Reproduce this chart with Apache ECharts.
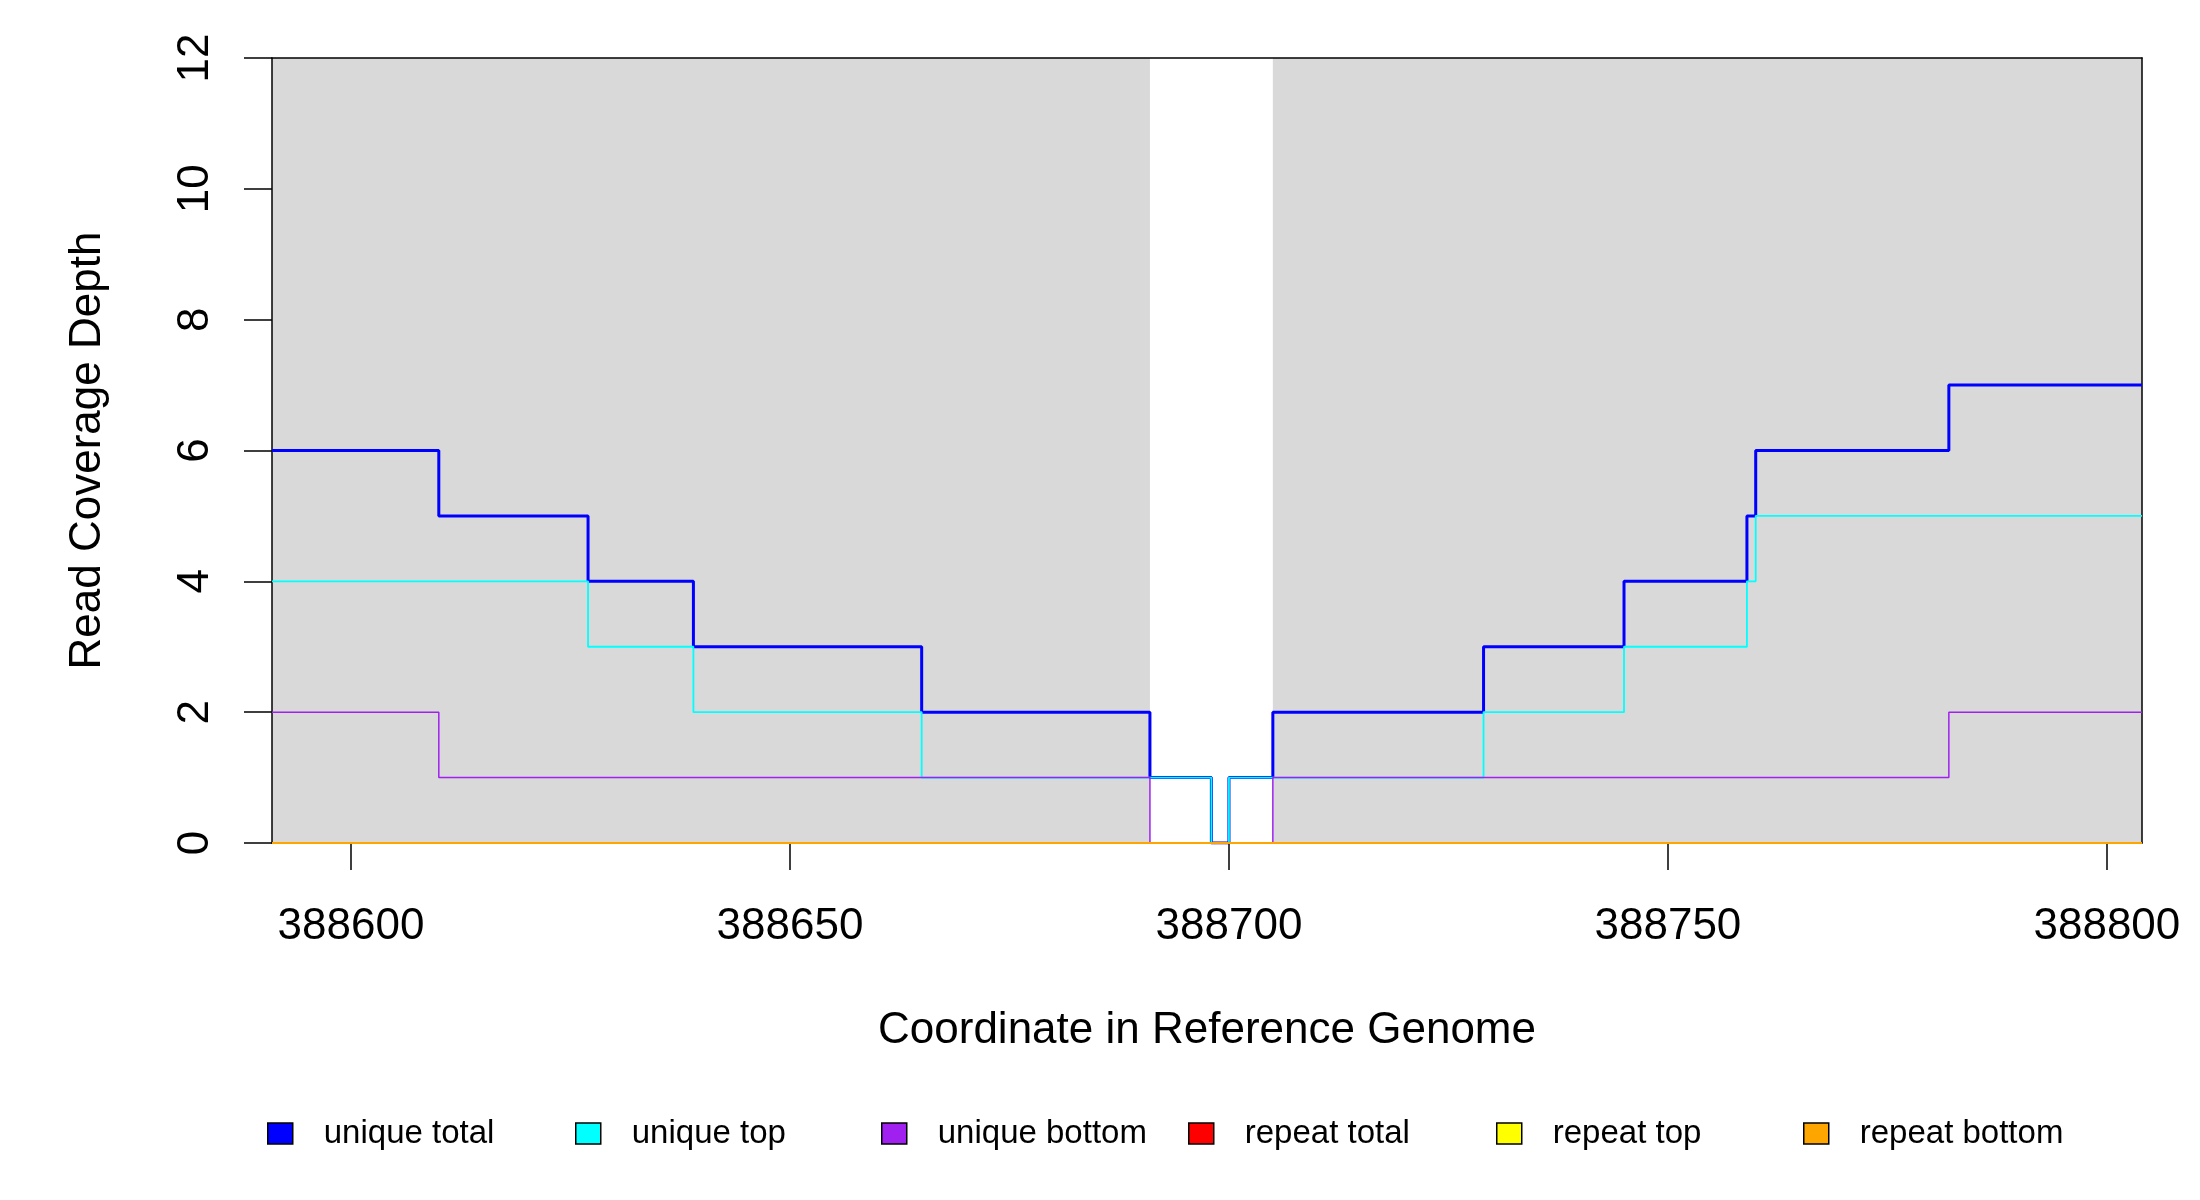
<!DOCTYPE html>
<html>
<head>
<meta charset="utf-8">
<title>Read Coverage Depth</title>
<script src="https://cdn.jsdelivr.net/npm/echarts@6/dist/echarts.min.js"></script>
<style>
  html, body { margin: 0; padding: 0; background: #fff; }
  #chart { width: 2200px; height: 1200px; }
</style>
</head>
<body>
<div id="chart"></div>
<script>
// x range of the plot and the tick positions
var xRange = [388591, 388804];
var xTicks = [388600, 388650, 388700, 388750, 388800];
var yTicks = [0, 2, 4, 6, 8, 10, 12];

// grey covered regions [from, to]
var coveredRegions = [[388591, 388691], [388705, 388804]];

// step lines: [position, depth] at each change point, last point closes the step
var uniqueTotal = [[388591, 6], [388610, 5], [388627, 4], [388639, 3], [388665, 2], [388691, 1],
    [388698, 0], [388700, 1], [388705, 2], [388729, 3], [388745, 4], [388759, 5], [388760, 6],
    [388782, 7], [388804, 7]];
var uniqueTop = [[388591, 4], [388627, 3], [388639, 2], [388665, 1], [388698, 0], [388700, 1],
    [388729, 2], [388745, 3], [388759, 4], [388760, 5], [388804, 5]];
var uniqueBottom = [[388591, 2], [388610, 1], [388691, 0], [388705, 1], [388782, 2], [388804, 2]];
var repeatTotal = [[388591, 0], [388804, 0]];
var repeatTop = [[388591, 0], [388804, 0]];
var repeatBottom = [[388591, 0], [388804, 0]];

var seriesNames = ['unique total', 'unique top', 'unique bottom', 'repeat total', 'repeat top', 'repeat bottom'];
var seriesData = [uniqueTotal, uniqueTop, uniqueBottom, repeatTotal, repeatTop, repeatBottom];
var seriesColors = ['#0000ff', '#00ffff', '#a020f0', '#ff0000', '#ffff00', '#ffa500'];
var lineWidths = [3, 1.8, 1.5, 2, 2, 2];
var legendLeft = [267, 575, 881, 1188, 1496, 1803];

var font = 'Liberation Sans, Arial, sans-serif';
var myChart = echarts.init(document.getElementById('chart'));

var series = [{
    // only carries the grey regions
    type: 'line',
    data: [],
    markArea: {
        silent: true,
        itemStyle: { color: '#d9d9d9', opacity: 1 },
        data: coveredRegions.map(function (r) {
            return [{ xAxis: r[0] }, { xAxis: r[1] }];
        })
    }
}];
for (var i = 0; i < seriesNames.length; i++) {
    series.push({
        name: seriesNames[i],
        type: 'line',
        step: 'end',
        data: seriesData[i],
        color: seriesColors[i],
        showSymbol: false,
        z: 11 + i,
        lineStyle: { color: seriesColors[i], width: lineWidths[i] }
    });
}

var legends = seriesNames.map(function (name, i) {
    return {
        data: [name],
        left: legendLeft[i],
        top: 1117,
        padding: 0,
        icon: 'rect',
        itemWidth: 25,
        itemHeight: 21,
        selectedMode: false,
        itemStyle: { borderColor: '#000', borderWidth: 1.5 },
        textStyle: { fontFamily: font, fontSize: 33, color: '#000', padding: [0, 0, 0, 26] }
    };
});

var option = {
    animation: false,
    backgroundColor: '#fff',
    textStyle: { fontFamily: font },
    grid: { left: 272, top: 58, right: 58, bottom: 357 },
    legend: legends,
    xAxis: [{
        type: 'value',
        min: xRange[0],
        max: xRange[1],
        z: 10,
        name: 'Coordinate in Reference Genome',
        nameLocation: 'middle',
        nameGap: 166,
        nameTextStyle: { fontFamily: font, fontSize: 44, color: '#000' },
        axisLine: { show: true, onZero: false, lineStyle: { color: '#000', width: 1.5 } },
        axisTick: { show: true, customValues: xTicks, length: 27, lineStyle: { color: '#000', width: 1.5 } },
        axisLabel: {
            customValues: xTicks,
            formatter: function (v) { return String(v); },
            margin: 62, fontFamily: font, fontSize: 44, color: '#000'
        },
        splitLine: { show: false }
    }, {
        type: 'value',
        position: 'top',
        min: xRange[0],
        max: xRange[1],
        z: 10,
        axisLine: { show: true, onZero: false, lineStyle: { color: '#000', width: 1.5 } },
        axisTick: { show: false },
        axisLabel: { show: false },
        splitLine: { show: false }
    }],
    yAxis: [{
        type: 'value',
        min: yTicks[0],
        max: yTicks[yTicks.length - 1],
        interval: 2,
        z: 10,
        name: 'Read Coverage Depth',
        nameLocation: 'middle',
        nameRotate: 90,
        nameGap: 162,
        nameTextStyle: { fontFamily: font, fontSize: 44, color: '#000' },
        axisLine: { show: true, onZero: false, lineStyle: { color: '#000', width: 1.5 } },
        axisTick: { show: true, length: 28, lineStyle: { color: '#000', width: 1.5 } },
        axisLabel: { rotate: 90, margin: 54, fontFamily: font, fontSize: 44, color: '#000' },
        splitLine: { show: false }
    }, {
        type: 'value',
        position: 'right',
        min: yTicks[0],
        max: yTicks[yTicks.length - 1],
        z: 10,
        axisLine: { show: true, onZero: false, lineStyle: { color: '#000', width: 1.5 } },
        axisTick: { show: false },
        axisLabel: { show: false },
        splitLine: { show: false }
    }],
    series: series
};

myChart.setOption(option);
</script>
</body>
</html>
